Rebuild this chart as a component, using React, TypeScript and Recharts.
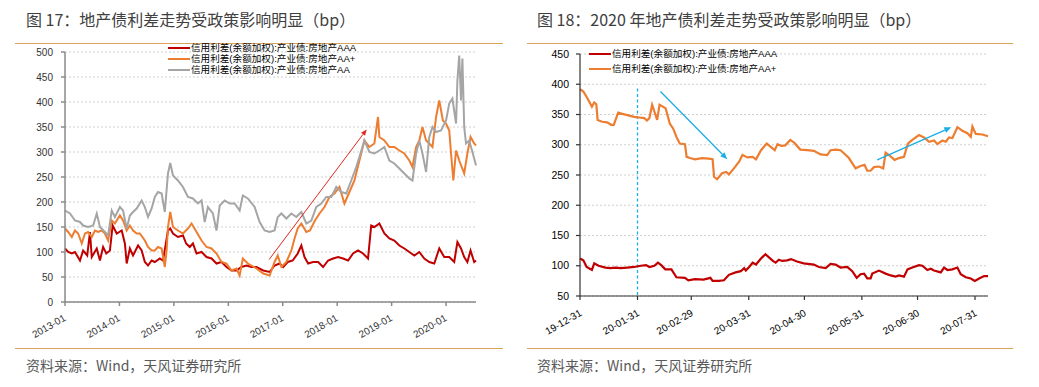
import React from 'react';
import { LineChart, Line, XAxis, YAxis, CartesianGrid, ReferenceLine } from 'recharts';

type Pt = [number, number];

// 图17: x = months since 2013-01
const yearTicks = [0, 12, 24, 36, 48, 60, 72, 84];
const yearLabels = ['2013-01', '2014-01', '2015-01', '2016-01', '2017-01', '2018-01', '2019-01', '2020-01'];
const leftYTicks = [0, 50, 100, 150, 200, 250, 300, 350, 400, 450, 500];

const spreadAAA: Pt[] = [
  [0, 107], [0.7, 100], [1.5, 97], [2.2, 100], [3.3, 83], [4.0, 103], [4.9, 93], [5.5, 140], [5.9, 90],
  [7.0, 107], [7.7, 83], [8.4, 110], [9.1, 97], [9.9, 103], [10.5, 153], [11.4, 137], [12.5, 143],
  [13.2, 117], [13.6, 77], [14.3, 107], [15.0, 93], [16.1, 113], [16.9, 103], [17.6, 80], [18.3, 73],
  [19.1, 83], [19.8, 80], [20.9, 87], [21.6, 83], [22.1, 110], [22.7, 143], [23.2, 147], [23.8, 137],
  [24.9, 130], [26.0, 133], [26.7, 117], [27.5, 110], [28.2, 117], [29.0, 97], [30.1, 100], [31.2, 90],
  [32.3, 87], [33.4, 77], [34.5, 80], [35.6, 70], [36.7, 63], [37.8, 63], [38.9, 70], [40.0, 73],
  [41.1, 70], [42.2, 70], [43.7, 63], [45.1, 60], [46.2, 73], [47.3, 77], [48.1, 70], [49.1, 80],
  [50.2, 83], [51.3, 97], [52.1, 113], [52.8, 90], [53.6, 77], [54.7, 80], [55.8, 80], [56.9, 70],
  [58.0, 83], [59.1, 87], [60.2, 90], [61.3, 87], [62.4, 83], [63.5, 97], [64.6, 103], [65.7, 97],
  [66.8, 87], [67.5, 153], [68.2, 150], [69.3, 157], [70.4, 137], [71.5, 127], [72.6, 123], [73.7, 113],
  [74.8, 107], [75.9, 100], [77.0, 93], [78.1, 100], [79.2, 87], [80.3, 80], [81.4, 77], [82.5, 107],
  [83.6, 90], [84.7, 90], [85.8, 80], [86.5, 120], [87.3, 107], [88.0, 90], [88.7, 80], [89.4, 103],
  [90.2, 80], [90.6, 83],
];

const spreadAAplus: Pt[] = [
  [0, 147], [0.7, 140], [1.5, 130], [2.2, 143], [2.9, 137], [3.7, 117], [4.4, 137], [5.1, 140], [5.9, 130],
  [6.6, 143], [7.3, 140], [8.1, 143], [8.8, 137], [9.5, 123], [10.3, 163], [11.0, 157], [12.1, 173],
  [12.8, 163], [13.6, 143], [14.3, 153], [15.0, 143], [15.8, 137], [16.5, 137], [17.6, 123], [18.3, 110],
  [19.1, 103], [19.8, 103], [20.5, 110], [21.3, 107], [22.0, 70], [22.4, 103], [22.7, 150], [23.2, 180],
  [23.8, 150], [24.9, 143], [26.0, 137], [27.1, 147], [27.9, 157], [29.0, 140], [30.1, 123], [31.2, 110],
  [32.3, 107], [33.4, 97], [34.5, 80], [35.6, 77], [36.7, 63], [37.8, 67], [38.5, 53], [39.2, 87],
  [40.3, 77], [42.2, 67], [43.7, 57], [45.1, 53], [46.2, 80], [46.9, 93], [47.7, 70], [48.8, 80],
  [49.9, 103], [50.6, 127], [51.3, 147], [52.1, 157], [53.2, 140], [54.0, 143], [55.1, 163], [56.1, 177],
  [57.2, 190], [58.3, 210], [59.4, 217], [60.5, 230], [61.6, 197], [62.7, 220], [63.8, 243], [64.9, 283],
  [66.0, 323], [67.1, 310], [68.2, 317], [69.0, 370], [69.3, 330], [70.4, 323], [71.5, 310], [72.6, 310],
  [73.7, 303], [74.8, 297], [75.9, 283], [76.6, 270], [77.4, 310], [78.1, 323], [78.8, 350], [79.6, 323],
  [80.3, 317], [81.0, 310], [81.8, 370], [82.5, 403], [83.3, 363], [84.0, 357], [84.7, 343], [85.1, 297],
  [85.6, 243], [86.2, 303], [86.9, 283], [88.0, 257], [88.7, 297], [89.4, 330], [90.2, 317], [90.6, 313],
];

const spreadAA: Pt[] = [
  [0, 183], [1.1, 177], [2.2, 163], [3.3, 160], [4.0, 153], [5.1, 150], [6.2, 153], [7.0, 177], [7.7, 150],
  [8.8, 140], [9.5, 133], [10.3, 183], [11.0, 170], [12.1, 190], [12.8, 183], [13.6, 147], [14.3, 173],
  [15.0, 180], [15.8, 187], [16.9, 203], [17.6, 190], [18.3, 170], [19.1, 187], [19.8, 210], [20.5, 220],
  [21.3, 217], [22.0, 180], [22.7, 257], [23.2, 278], [23.8, 253], [24.9, 243], [26.0, 230], [27.1, 210],
  [28.2, 207], [29.3, 197], [30.1, 203], [30.8, 160], [31.5, 190], [32.6, 177], [33.4, 143], [34.1, 193],
  [35.2, 203], [36.3, 197], [37.4, 197], [38.5, 183], [39.2, 213], [40.3, 207], [41.8, 190], [42.9, 160],
  [44.0, 143], [45.1, 140], [46.2, 143], [46.9, 170], [47.7, 177], [48.8, 167], [49.9, 177], [51.0, 170],
  [52.1, 180], [53.2, 157], [54.3, 163], [55.4, 190], [56.5, 197], [57.6, 210], [58.7, 210], [59.8, 230],
  [60.9, 220], [62.0, 217], [63.1, 243], [64.2, 270], [64.9, 290], [66.0, 323], [67.1, 300], [68.2, 297],
  [69.3, 303], [70.4, 310], [71.5, 283], [72.6, 277], [73.7, 267], [74.8, 257], [75.9, 247], [76.6, 243],
  [77.4, 297], [78.1, 323], [78.8, 297], [79.6, 260], [80.3, 330], [81.0, 350], [81.8, 340], [82.9, 343],
  [84.0, 363], [84.7, 397], [85.4, 407], [86.2, 357], [86.5, 443], [86.9, 493], [87.3, 403], [87.6, 487],
  [88.0, 350], [88.4, 317], [89.1, 323], [89.9, 297], [90.6, 273],
];

// 红色箭头（月份, bp）
const leftArrow: Pt[] = [[45, 85], [66.5, 345]];

// 图18: x = days since 2019-12-31
const monthTicks = [0, 31, 60, 91, 121, 152, 182, 213];
const monthLabels = ['19-12-31', '20-01-31', '20-02-29', '20-03-31', '20-04-30', '20-05-31', '20-06-30', '20-07-31'];
const rightYTicks = [50, 100, 150, 200, 250, 300, 350, 400, 450];

const spreadAAA2020: Pt[] = [
  [0, 112], [1.8, 109], [3.6, 98], [6.4, 93], [7.7, 104], [10.0, 100], [13.7, 97], [16.4, 96], [19.2, 97],
  [21.9, 96], [25.5, 97], [29.2, 98], [32.8, 100], [35.6, 101], [37.4, 98], [40.1, 100], [42.0, 105],
  [43.8, 101], [46.0, 94], [49.3, 94], [52.0, 81], [56.6, 80], [58.4, 76], [62.0, 78], [66.6, 77],
  [70.3, 80], [71.5, 75], [74.8, 75], [77.6, 76], [80.3, 85], [83.9, 89], [86.7, 91], [88.5, 96],
  [89.4, 92], [91.2, 98], [93.1, 105], [94.9, 102], [97.6, 112], [100.0, 119], [102.2, 113], [104.0, 108],
  [105.5, 105], [107.2, 110], [109.0, 108], [111.7, 109], [113.8, 111], [117.0, 107], [120.6, 104],
  [126.1, 102], [128.8, 98], [132.5, 96], [135.1, 103], [137.8, 102], [140.5, 97], [144.1, 98], [146.8, 91],
  [149.2, 80], [151.3, 86], [153.2, 87], [154.9, 79], [156.7, 79], [157.6, 87], [161.2, 92], [164.8, 87],
  [167.5, 84], [170.2, 82], [172.0, 84], [174.7, 82], [176.6, 94], [179.2, 97], [182.8, 101], [184.6, 100],
  [187.3, 93], [189.1, 95], [190.9, 92], [194.5, 89], [196.3, 97], [198.1, 93], [200.8, 94], [203.5, 97],
  [205.3, 86], [208.0, 81], [210.7, 79], [212.9, 75], [215.2, 79], [217.9, 83], [220.0, 83],
];

const spreadAAplus2020: Pt[] = [
  [0, 392], [1.8, 388], [3.6, 379], [5.5, 368], [6.4, 363], [7.7, 370], [8.8, 367], [9.5, 341], [11.9, 338],
  [14.6, 337], [16.8, 333], [18.2, 333], [20.6, 353], [22.8, 351], [25.5, 349], [29.2, 346], [31.9, 345],
  [34.7, 344], [36.1, 340], [37.4, 344], [38.9, 366], [40.1, 355], [41.6, 341], [42.9, 366], [44.7, 363],
  [46.2, 360], [48.4, 335], [50.2, 327], [52.0, 313], [53.8, 302], [56.6, 301], [57.5, 280], [59.3, 278],
  [62.0, 276], [65.7, 278], [69.3, 277], [71.5, 276], [72.3, 247], [73.9, 243], [76.6, 253], [78.8, 255],
  [80.3, 251], [83.0, 261], [85.8, 272], [87.6, 283], [90.3, 279], [93.1, 280], [94.9, 276], [97.6, 291],
  [100.7, 302], [103.0, 296], [105.0, 291], [106.5, 301], [108.5, 298], [110.7, 299], [113.4, 308],
  [115.6, 303], [118.8, 292], [122.5, 291], [126.1, 290], [129.7, 284], [133.3, 283], [135.1, 291],
  [137.8, 292], [140.5, 291], [142.3, 286], [145.0, 278], [148.6, 261], [151.3, 265], [153.4, 267],
  [154.9, 257], [156.7, 257], [158.5, 263], [161.2, 264], [163.5, 261], [164.8, 287], [166.6, 283],
  [169.6, 275], [172.0, 278], [174.7, 280], [176.8, 302], [179.2, 308], [182.8, 316], [185.5, 312],
  [188.2, 305], [190.9, 307], [192.7, 301], [195.4, 307], [197.2, 305], [199.0, 312], [200.8, 311],
  [203.5, 329], [206.2, 323], [208.9, 319], [210.7, 313], [211.6, 330], [213.4, 318], [217.0, 317], [220.0, 314],
];

// 标注（天数, bp）
const dashedLine: Pt[] = [[31, 393], [31, 50]];
const downArrow: Pt[] = [[43.4, 388], [79.4, 276]];
const upArrow: Pt[] = [[160.3, 275], [200.2, 329]];

const RED = '#C00000';
const ORANGE = '#ED7D31';
const GRAY = '#A5A5A5';
const CYAN = '#1AAEE3';
const RULE = '#D9A35E';
const CJK = '"Noto Sans CJK SC", "Liberation Sans", sans-serif';
const LATIN = '"Liberation Sans", Arial, sans-serif';
const LEGEND_FONT = '"Liberation Sans", "Noto Sans CJK SC", sans-serif';

const toRows = (pts: Pt[]) => pts.map(([x, v]) => ({ x, v }));
const seg = (pts: Pt[]) => pts.map(([x, y]) => ({ x, y }));

const arrowShape = (color: string, width: number, head: number) => (props: any) => {
  const { x1, y1, x2, y2 } = props;
  const a = Math.atan2(y2 - y1, x2 - x1);
  const bx = x2 - head * Math.cos(a);
  const by = y2 - head * Math.sin(a);
  const w = head * 0.42;
  const px = -Math.sin(a) * w;
  const py = Math.cos(a) * w;
  return (
    <g>
      <line x1={x1} y1={y1} x2={bx} y2={by} stroke={color} strokeWidth={width} />
      <polygon points={`${x2},${y2} ${bx + px},${by + py} ${bx - px},${by - py}`} fill={color} />
    </g>
  );
};

const RotatedTick = (props: any) => {
  const { x, y, payload, ticks, labels, dx, dy, color } = props;
  const label = labels[ticks.indexOf(payload.value)];
  return (
    <g transform={`translate(${x + dx},${y + dy})`}>
      <text x={0} y={0} textAnchor="end" fill={color} fontSize={10} fontFamily={LATIN} transform="rotate(-30)">
        {label}
      </text>
    </g>
  );
};

const LegendRow = ({ color, text, center, left }: { color: string; text: string; center: number; left: number }) => (
  <div style={{ position: 'absolute', left, top: center - 5, height: 10, display: 'flex', alignItems: 'center', whiteSpace: 'nowrap' }}>
    <div style={{ width: 22, height: 2, background: color, marginRight: 1 }} />
    <span style={{ display: 'block', height: 10, fontSize: 9.6, lineHeight: '10px', fontFamily: LEGEND_FONT, color: '#000' }}>{text}</span>
  </div>
);

const Title = ({ text, left }: { text: string; left: number }) => (
  <div style={{ position: 'absolute', left, top: 8, fontSize: 16, lineHeight: '22px', fontFamily: CJK, color: '#404040', whiteSpace: 'nowrap' }}>
    {text}
  </div>
);

const Source = ({ left }: { left: number }) => (
  <div style={{ position: 'absolute', left, top: 355, fontSize: 14, lineHeight: '20px', fontFamily: CJK, color: '#595959', whiteSpace: 'nowrap' }}>
    资料来源：Wind，天风证券研究所
  </div>
);

const Rule = ({ left, width, top }: { left: number; width: number; top: number }) => (
  <div style={{ position: 'absolute', left, width, top, height: 0, borderTop: `1.5px solid ${RULE}` }} />
);

export default function App() {
  return (
    <div style={{ position: 'absolute', left: 0, top: 0, width: 1039, height: 387, background: '#fff', overflow: 'hidden' }}>
      <Title text="图 17：地产债利差走势受政策影响明显（bp）" left={26} />
      <Title text="图 18：2020 年地产债利差走势受政策影响明显（bp）" left={537} />
      <Rule left={15} width={488} top={43} />
      <Rule left={527} width={486} top={43} />

      <div style={{ position: 'absolute', left: 0, top: 0 }}>
        <LineChart width={520} height={345} margin={{ top: 52, right: 44, bottom: 0, left: 0 }}>
          <CartesianGrid vertical={false} stroke="#cfcfcf" strokeDasharray="2 2" />
          <XAxis
            dataKey="x"
            type="number"
            domain={[0, 90.6]}
            ticks={yearTicks}
            interval={0}
            height={43}
            stroke="#8a8a8a"
            strokeWidth={1.5}
            tickSize={4}
            tickMargin={2}
            tick={<RotatedTick ticks={yearTicks} labels={yearLabels} dx={1.5} dy={12} color="#333" />}
          />
          <YAxis
            type="number"
            domain={[0, 500]}
            ticks={leftYTicks}
            interval={0}
            width={65}
            stroke="#8a8a8a"
            strokeWidth={1.5}
            tickSize={4}
            tickMargin={8}
            tick={{ fill: '#333', fontSize: 10, fontFamily: LATIN }}
          />
          <Line data={toRows(spreadAAA)} dataKey="v" stroke={RED} strokeWidth={2} dot={false} isAnimationActive={false} />
          <Line data={toRows(spreadAAplus)} dataKey="v" stroke={ORANGE} strokeWidth={2} dot={false} isAnimationActive={false} />
          <Line data={toRows(spreadAA)} dataKey="v" stroke={GRAY} strokeWidth={2} dot={false} isAnimationActive={false} />
          <ReferenceLine segment={seg(leftArrow)} shape={arrowShape('#E0281E', 1, 6)} />
        </LineChart>
      </div>

      <div style={{ position: 'absolute', left: 520, top: 0 }}>
        <LineChart width={519} height={345} margin={{ top: 54, right: 51, bottom: 0, left: 0 }}>
          <CartesianGrid vertical={false} stroke="#cfcfcf" strokeDasharray="2 2" />
          <XAxis
            dataKey="x"
            type="number"
            domain={[0, 220]}
            ticks={monthTicks}
            interval={0}
            height={49}
            stroke="#333"
            strokeWidth={1.2}
            tickSize={4}
            tickMargin={2}
            tick={<RotatedTick ticks={monthTicks} labels={monthLabels} dx={2.5} dy={13} color="#000" />}
          />
          <YAxis
            type="number"
            domain={[50, 450]}
            ticks={rightYTicks}
            interval={0}
            width={60}
            stroke="#333"
            strokeWidth={1.2}
            tickSize={4}
            tickMargin={7}
            tick={{ fill: '#000', fontSize: 10.5, fontFamily: LATIN }}
          />
          <ReferenceLine segment={seg(dashedLine)} stroke={CYAN} strokeWidth={1.3} strokeDasharray="3 2.5" />
          <Line data={toRows(spreadAAA2020)} dataKey="v" stroke={RED} strokeWidth={2.2} dot={false} isAnimationActive={false} />
          <Line data={toRows(spreadAAplus2020)} dataKey="v" stroke={ORANGE} strokeWidth={2.2} dot={false} isAnimationActive={false} />
          <ReferenceLine segment={seg(downArrow)} shape={arrowShape(CYAN, 1.3, 7)} />
          <ReferenceLine segment={seg(upArrow)} shape={arrowShape(CYAN, 1.3, 7)} />
        </LineChart>
      </div>

      <LegendRow color={RED} text="信用利差(余额加权):产业债:房地产AAA" left={168} center={47.5} />
      <LegendRow color={ORANGE} text="信用利差(余额加权):产业债:房地产AA+" left={168} center={58.5} />
      <LegendRow color={GRAY} text="信用利差(余额加权):产业债:房地产AA" left={168} center={69.5} />
      <LegendRow color={RED} text="信用利差(余额加权):产业债:房地产AAA" left={589} center={54} />
      <LegendRow color={ORANGE} text="信用利差(余额加权):产业债:房地产AA+" left={589} center={69} />

      <Rule left={15} width={488} top={347.5} />
      <Rule left={527} width={486} top={347.5} />
      <Source left={26} />
      <Source left={537} />
    </div>
  );
}
